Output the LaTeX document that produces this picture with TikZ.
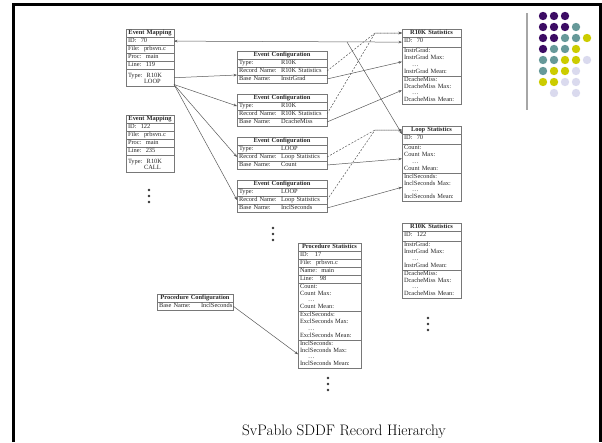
\documentclass[tikz,border=0pt]{standalone}
\usepackage{fontspec}
\newfontfamily\boxfont{Liberation Serif}
\usetikzlibrary{arrows.meta, positioning}
\definecolor{boxgray}{RGB}{120,120,120}
\definecolor{dotp}{RGB}{60,12,100}
\definecolor{dott}{RGB}{102,153,153}
\definecolor{doty}{RGB}{204,204,0}
\definecolor{dotl}{RGB}{218,218,238}
\definecolor{dotw}{RGB}{255,255,255}
\newcommand{\fld}[2]{\makebox[42pt][l]{#1}#2}
\newcommand{\statlines}[1]{#1:\\#1 Max:\\\hspace*{8pt}\dots\\#1 Mean:}

\begin{document}
\begin{tikzpicture}[
      x=1pt, y=-1pt, node distance=0pt, >={Stealth[length=3.5pt,width=2.6pt]},
      cellbox/.style={draw=boxgray, line width=0.6pt, outer sep=0pt, anchor=north,
        inner xsep=2pt, inner ysep=0.75pt, text=black!85, align=left,
        font=\boxfont\fontsize{6.4}{6.5}\selectfont, text height=4.55pt, text depth=1.95pt},
      headbox/.style={cellbox, align=center, font=\boxfont\bfseries\fontsize{6.4}{6.5}\selectfont},
      idbox/.style={cellbox, text depth=4.45pt},
      typebox/.style={cellbox, text height=7.5pt, text depth=8.5pt},
      secbox/.style={cellbox, font=\boxfont\fontsize{6.4}{6.8}\selectfont, text depth=22.45pt},
      mapw/.style={text width=44pt}, cfgw/.style={text width=86pt},
      statw/.style={text width=55pt}, procw/.style={text width=59pt},
      link/.style={->, draw=black!65, line width=0.5pt},
      reclink/.style={link, dash pattern=on 2pt off 1.5pt}
      ]
      \useasboundingbox (0,0) rectangle (602,442);

      % slide frame and logo
      \draw[line width=3pt] (13.5,442) -- (13.5,4.5) -- (600.5,4.5) -- (600.5,442);
      \draw[gray!70, line width=1.6pt] (527,13) -- (527,110);
      \foreach \cl [count=\r from 0] in {{p,p,p,w,w},{p,p,p,t,w},{p,p,t,t,y},{p,t,t,y,w},
          {t,t,y,y,l},{t,y,y,l,w},{y,y,l,l,w},{w,l,w,l,w}}
        \foreach \c [count=\k from 0] in \cl
          \fill[dot\c] (543+11*\k, 16+11*\r) circle (4.2);

      % event mappings
      \foreach \i/\y/\id/\ln/\kind in {1/29/70/119/LOOP, 2/115/122/235/CALL} {
        \node[headbox, mapw] (em\i) at (150,\y) {Event Mapping};
        \node[cellbox, mapw, below=of em\i] (em\i-id) {ID:\ \ \id};
        \node[cellbox, mapw, below=of em\i-id] (em\i-file) {File:\ \ prbsvn.c};
        \node[cellbox, mapw, below=of em\i-file] (em\i-proc) {Proc:\ \ main};
        \node[cellbox, mapw, below=of em\i-proc] (em\i-line) {Line:\ \ \ln};
        \node[typebox, mapw, below=of em\i-line] (em\i-type) {Type:\ \ R10K\\\hspace*{16pt}\kind};
      }

      % event configurations
      \foreach \i/\kind/\rec/\base in {1/R10K/R10K Statistics/InstrGrad, 2/R10K/R10K Statistics/DcacheMiss,
          3/LOOP/Loop Statistics/Count, 4/LOOP/Loop Statistics/InclSeconds} {
        \node[headbox, cfgw] (ec\i) at (282,{8+43*\i}) {Event Configuration};
        \node[cellbox, cfgw, below=of ec\i] (ec\i-type) {\fld{Type:}{\kind}};
        \node[cellbox, cfgw, below=of ec\i-type] (ec\i-rec) {\fld{Record Name:}{\rec}};
        \node[cellbox, cfgw, below=of ec\i-rec] (ec\i-base) {\fld{Base Name:}{\base}};
      }

      % statistics records
      \foreach \n/\y/\title/\id/\sa/\sb in {r1/29/R10K Statistics/70/InstrGrad/DcacheMiss,
          lp/126/Loop Statistics/70/Count/InclSeconds, r2/223/R10K Statistics/122/InstrGrad/DcacheMiss} {
        \node[headbox, statw] (\n) at (431.5,\y) {\title};
        \node[idbox, statw, below=of \n] (\n-id) {ID:\ \ \id};
        \node[secbox, statw, below=of \n-id] (\n-s1) {\statlines{\sa}};
        \node[secbox, statw, below=of \n-s1] (\n-s2) {\statlines{\sb}};
      }

      % procedure records
      \node[headbox, procw] (ps) at (329.5,243) {Procedure Statistics};
      \node[cellbox, procw, below=of ps] (ps-id) {ID:\quad 17};
      \node[cellbox, procw, below=of ps-id] (ps-file) {File:\ \ prbsvn.c};
      \node[cellbox, procw, below=of ps-file] (ps-name) {Name:\ \ main};
      \node[cellbox, procw, below=of ps-name] (ps-line) {Line:\quad 98};
      \node[secbox, procw, below=of ps-line] (ps-count) {\statlines{Count}};
      \node[secbox, procw, below=of ps-count] (ps-excl) {\statlines{ExclSeconds}};
      \node[secbox, procw, below=of ps-excl] (ps-incl) {\statlines{InclSeconds}};
      \node[headbox, text width=72pt] (pc) at (195,294) {Procedure Configuration};
      \node[cellbox, text width=72pt, below=of pc] (pc-base) {\fld{Base Name:}{InclSeconds}};

      % links
      \coordinate (fork) at (347,42);
      \draw[link, <->] (em1-id) -- (r1-id);
      \draw[link] (fork) -- (lp-id.north west);
      \draw[link] (em1-type.east) -- (ec1-base.north west);
      \foreach \dst in {ec2-type, ec3-rec, ec4-rec}
        \draw[link] ([yshift=2pt]em1-type.south east) -- (\dst.west);
      \foreach \src/\dst in {ec1/r1, ec2/r1, ec3/lp, ec4/lp}
        \draw[reclink] (\src-rec.east) -- ([xshift=-27pt]\dst.west) -- (\dst.west);
      \foreach \src/\dst in {ec1-base/r1-s1, ec2-base/r1-s2, ec3-base/lp-s1, ec4-base/lp-s2}
        \draw[link] (\src.east) -- (\dst.west);
      \draw[link] (pc-base.east) -- (ps-incl.west);

      % continuation dots
      \foreach \x/\y in {149/190, 273/228, 428/318, 328/378}
        \foreach \d in {0,6,12}
          \fill[black!80] (\x,\y+\d) circle (1.3);

      \node[font=\fontsize{15.2}{18}\selectfont] (title) at (344,432) {SvPablo SDDF Record Hierarchy};
    \end{tikzpicture}
\end{document}
